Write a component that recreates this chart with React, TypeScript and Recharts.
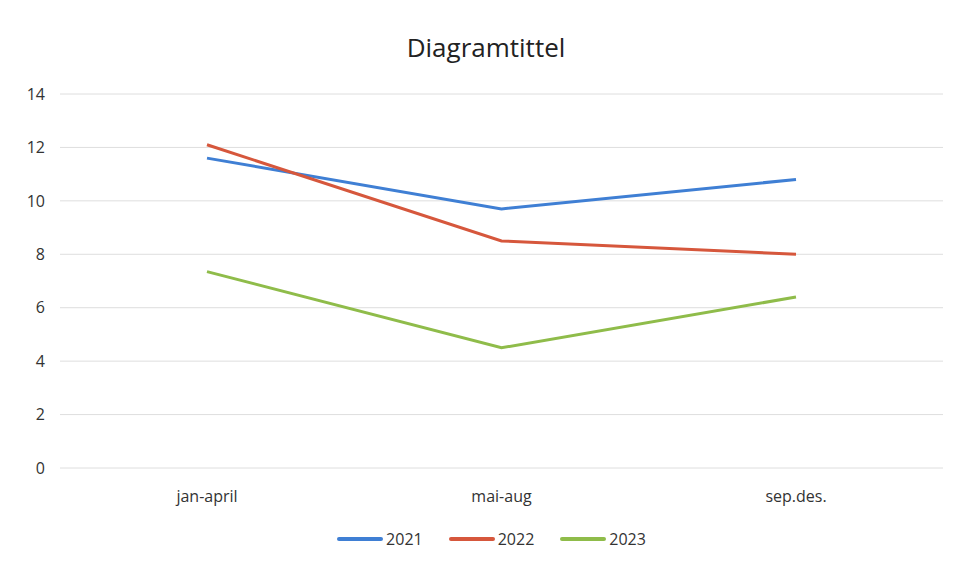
import { LineChart, Line, XAxis, YAxis, CartesianGrid, Legend } from "recharts";

const periods = ["jan-april", "mai-aug", "sep.des."];
const values2021 = [11.6, 9.7, 10.8];
const values2022 = [12.1, 8.5, 8.0];
const values2023 = [7.35, 4.5, 6.4];
const yTicks = [0, 2, 4, 6, 8, 10, 12, 14];

const series = [
  { key: "2021", color: "#3f7fd4" },
  { key: "2022", color: "#d6573c" },
  { key: "2023", color: "#8fbc4a" },
];

const data = periods.map((period, i) => ({
  period,
  "2021": values2021[i],
  "2022": values2022[i],
  "2023": values2023[i],
}));

const FONT = "'Open Sans', 'Noto Sans', sans-serif";

function LegendContent() {
  return (
    <div
      style={{
        display: "flex",
        justifyContent: "center",
        gap: 26,
        fontFamily: FONT,
        paddingTop: 8,
        paddingLeft: 30,
      }}
    >
      {series.map((s) => (
        <div key={s.key} style={{ display: "flex", alignItems: "center", gap: 3 }}>
          <span
            style={{
              display: "inline-block",
              width: 46,
              height: 4,
              borderRadius: 2,
              background: s.color,
            }}
          />
          <span style={{ fontSize: 16, color: "#333" }}>{s.key}</span>
        </div>
      ))}
    </div>
  );
}

export default function App() {
  return (
    <div style={{ position: "relative", width: 958, height: 562, margin: -8, background: "#fff" }}>
      <div
        style={{
          position: "absolute",
          top: 29,
          left: 0,
          width: 972,
          textAlign: "center",
          fontFamily: FONT,
          fontSize: 26,
          color: "#222",
        }}
      >
        Diagramtittel
      </div>
      <LineChart width={958} height={562} data={data} margin={{ top: 94, right: 15, left: 10, bottom: 6 }}>
        <CartesianGrid vertical={false} stroke="#dedede" />
        <XAxis
          dataKey="period"
          axisLine={false}
          tickLine={false}
          tickSize={0}
          tickMargin={23}
          height={52}
          padding={{ left: 147, right: 147 }}
          tick={{ fill: "#333", fontSize: 16, fontFamily: FONT }}
        />
        <YAxis
          domain={[0, 14]}
          ticks={yTicks}
          width={50}
          axisLine={false}
          tickLine={false}
          tickSize={0}
          tickMargin={15}
          tick={{ fill: "#333", fontSize: 16, fontFamily: FONT }}
        />
        <Legend verticalAlign="bottom" height={36} content={<LegendContent />} />
        {series.map((s) => (
          <Line
            key={s.key}
            dataKey={s.key}
            stroke={s.color}
            strokeWidth={3}
            dot={false}
            isAnimationActive={false}
          />
        ))}
      </LineChart>
    </div>
  );
}
